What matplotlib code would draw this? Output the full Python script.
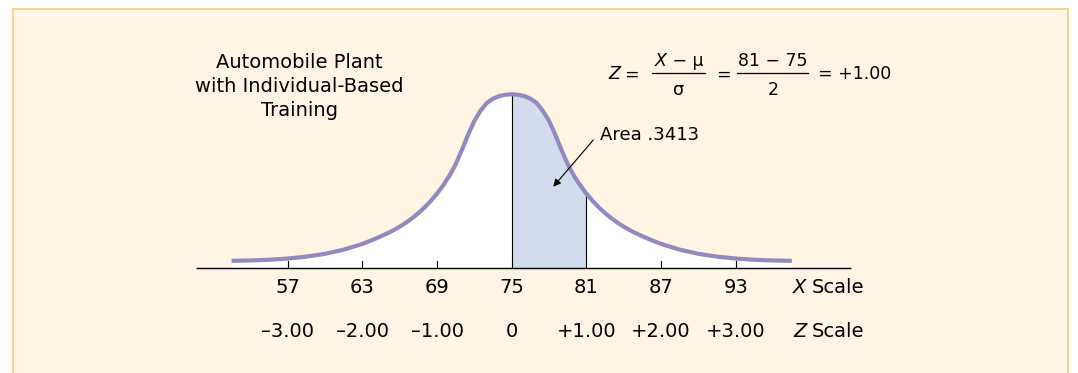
import matplotlib
matplotlib.use("Agg")
import matplotlib.pyplot as plt
from matplotlib.patches import Rectangle

plt.rcParams['font.family'] = ['DejaVu Sans']

# ---------------- data ----------------
# X-scale positions along the curve and relative curve heights (peak = 1)
curve_x = [52.5, 54, 55.5, 57, 58.5, 60, 61.5, 63, 63.75, 64.5, 65.25, 66, 66.5,
           67, 67.5, 68, 68.5, 69, 69.5, 70, 70.5, 71, 71.5, 72, 72.5, 73,
           73.5, 74, 74.5, 75,
           75.5, 76, 76.5, 77, 77.5, 78, 78.5, 79, 79.5, 80, 80.5, 81, 81.5,
           82, 82.5, 83, 83.5, 84, 84.75, 85.5, 86.25, 87, 88.5, 90, 91.5, 93,
           94.5, 96, 97.5]
curve_h = [0.043, 0.045, 0.049, 0.056, 0.067, 0.083, 0.107, 0.140, 0.161, 0.184,
           0.209, 0.239, 0.262, 0.288, 0.317, 0.350, 0.387, 0.429, 0.477, 0.532,
           0.598, 0.680, 0.768, 0.847, 0.906, 0.950, 0.975, 0.990, 0.997, 1.000,
           0.997, 0.990, 0.975, 0.950, 0.906, 0.847, 0.768, 0.680, 0.598, 0.532,
           0.477, 0.429, 0.387, 0.350, 0.317, 0.288, 0.262, 0.239, 0.209, 0.184,
           0.161, 0.140, 0.107, 0.083, 0.067, 0.056, 0.049, 0.045, 0.043]
x_ticks = [57, 63, 69, 75, 81, 87, 93]
x_labels = ["57", "63", "69", "75", "81", "87", "93"]
z_labels = ["\u20133.00", "\u20132.00", "\u20131.00", "0", "+1.00", "+2.00", "+3.00"]
mu = 75
x_value = 81
sigma_text = "2"
z_result = "+1.00"
area_label = "Area .3413"
title_lines = ["Automobile Plant", "with Individual-Based", "Training"]

# ---------------- layout helpers (pixel -> data) ----------------
W, H = 1078, 373
PX75, PXU = 511.7, 12.45      # pixel of x=75, pixels per X unit
PY0, PYU = 268.3, 174.0       # pixel row of axis, pixels per height unit

def dx(px):
    return mu + (px - PX75) / PXU

def dy(py):
    return (PY0 - py) / PYU

fig = plt.figure(figsize=(W / 100, H / 100), dpi=100)
fig.patch.set_facecolor('white')
ax = fig.add_axes([0, 0, 1, 1])
ax.set_xlim(dx(0), dx(W))
ax.set_ylim(dy(H), dy(0))
ax.axis('off')

# cream panel with light orange border
panel = Rectangle((13 / W, -0.02), (1067.5 - 13) / W, (H - 9) / H + 0.02,
                  transform=fig.transFigure, facecolor='#fef4e4',
                  edgecolor='#f2d48e', linewidth=1.4, zorder=0)
ax.add_patch(panel)

# fills
ax.fill_between(curve_x, 0, curve_h, color='white', lw=0, zorder=1)
ax.fill_between(curve_x, 0, curve_h,
                where=[(mu <= v <= x_value) for v in curve_x],
                color='#d2dcee', lw=0, zorder=2)

# vertical lines at mean and at X
for v in (mu, x_value):
    hv = curve_h[curve_x.index(v)]
    ax.plot([v, v], [0, hv], color='black', lw=0.8, zorder=3)

# axis line and ticks
ax.plot([dx(196), dx(851)], [0, 0], color='black', lw=1.0, zorder=3,
        solid_capstyle='butt')
for t in x_ticks:
    if t in (mu, x_value):
        continue
    ax.plot([t, t], [0, 7 / PYU], color='black', lw=0.8, zorder=3)

# curve
ax.plot(curve_x, curve_h, color='#9289c0', lw=3.0, zorder=4,
        solid_capstyle='butt', solid_joinstyle='round')

# tick labels
for t, xl, zl in zip(x_ticks, x_labels, z_labels):
    ax.text(t, dy(293.3), xl, ha='center', va='baseline', fontsize=14)
    ax.text(t, dy(336.7), zl, ha='center', va='baseline', fontsize=14)
ax.text(dx(793), dy(293.3), "X", ha='left', va='baseline', fontsize=14,
        style='italic')
ax.text(dx(812), dy(293.3), "Scale", ha='left', va='baseline', fontsize=14)
ax.text(dx(793), dy(336.7), "Z", ha='left', va='baseline', fontsize=14,
        style='italic')
ax.text(dx(812), dy(336.7), "Scale", ha='left', va='baseline', fontsize=14)

# title
for line, base in zip(title_lines, (68.3, 92.3, 116.5)):
    ax.text(dx(299), dy(base), line, ha='center', va='baseline', fontsize=14)

# equation
fs = 12.5
ax.text(dx(608), dy(79.3), "Z", ha='left', va='baseline', fontsize=fs, style='italic')
ax.text(dx(631), dy(79.3), "=", ha='center', va='baseline', fontsize=fs)
ax.plot([dx(652), dx(705)], [dy(73.3)] * 2, color='black', lw=0.9)
ax.text(dx(667), dy(66.5), "X", ha='right', va='baseline', fontsize=fs,
        style='italic')
ax.text(dx(667), dy(66.5), " \u2212 \u03bc", ha='left', va='baseline', fontsize=fs)
ax.text(dx(678.5), dy(95), "\u03c3", ha='center', va='baseline', fontsize=fs)
ax.text(dx(723.5), dy(79.3), "=", ha='center', va='baseline', fontsize=fs)
ax.plot([dx(737), dx(808)], [dy(73.3)] * 2, color='black', lw=0.9)
ax.text(dx(772.5), dy(66.5), f"{x_value} \u2212 {mu}", ha='center', va='baseline',
        fontsize=fs)
ax.text(dx(773), dy(95), sigma_text, ha='center', va='baseline', fontsize=fs)
ax.text(dx(818), dy(79.3), f"= {z_result}", ha='left', va='baseline', fontsize=fs)

# area annotation
ax.text(dx(600), dy(134.5), area_label, ha='left', va='center', fontsize=13)
ax.annotate("", xy=(dx(553.3), dy(186.7)), xytext=(dx(593.3), dy(140)),
            arrowprops=dict(arrowstyle='-|>', color='black', lw=0.8,
                            mutation_scale=11, shrinkA=0, shrinkB=0),
            zorder=5)

fig.savefig("out.png", dpi=100, facecolor='white')
